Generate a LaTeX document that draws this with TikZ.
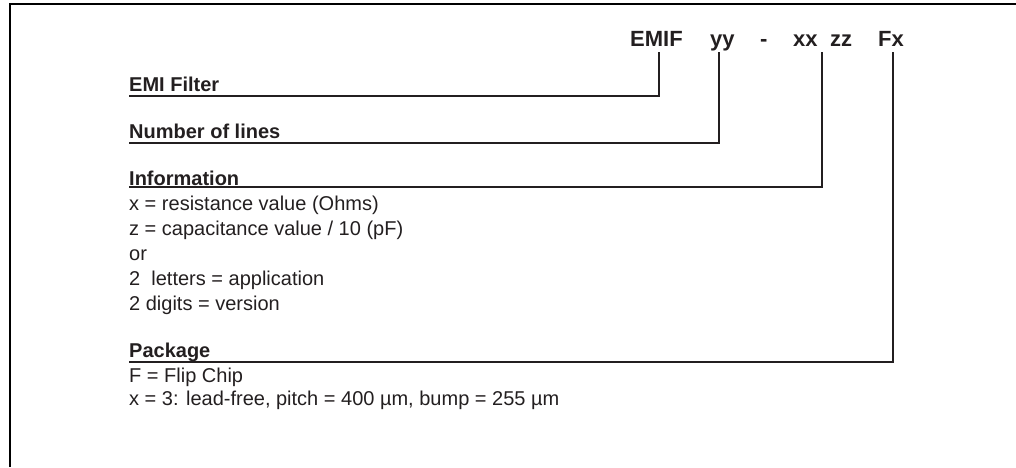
\documentclass[tikz,border=0pt]{standalone}
\usepackage{fontspec}
\setmainfont{Liberation Sans}
\definecolor{ink}{HTML}{231F20}
\begin{document}
\begin{tikzpicture}[x=1pt,y=-1pt,
  lab/.style={anchor=base west,inner sep=0pt,text=ink,font=\fontsize{20}{25}\selectfont\bfseries},
  txt/.style={anchor=base west,inner sep=0pt,text=ink,font=\fontsize{20}{25}\selectfont,align=left},
  head/.style={anchor=base west,inner sep=0pt,text=ink,font=\fontsize{22}{26}\selectfont\bfseries},
  conn/.style={draw=ink,line width=2.2pt},
  frame/.style={draw=black,line width=2pt}]
\useasboundingbox (0,0) rectangle (1016,467);
% frame
\coordinate (fbl) at (10,467);
\coordinate (ftl) at (10,4.3);
\coordinate (ftr) at (1016,4.3);
\draw[frame] (fbl) -- (ftl) -- (ftr);
% header
\node[head] (hemif) at (630,46.7) {EMIF};
\node[head] (hyy) at (710,46.7) {yy};
\node[head] (hdash) at (760,46.7) {-};
\node[head] (hxx) at (793,46.7) {xx};
\node[head] (hzz) at (830,46.7) {zz};
\node[head] (hfx) at (878,46.7) {Fx};
% labels
\node[lab] (emi) at (129,91.5) {EMI Filter};
\node[lab] (nol) at (129,138.3) {Number of lines};
\node[lab] (info) at (129,185) {Information};
\node[txt] (infotxt) at (129,210) {x = resistance value (Ohms)};
\node[txt] (l2) at (129,235) {z = capacitance value / 10 (pF)};
\node[txt] (l3) at (129,260) {or};
\node[txt] (l4) at (129,285) {2\ \ letters = application};
\node[txt] (l5) at (129,310) {2 digits = version};
\node[lab] (pkg) at (129,357.3) {Package};
\node[txt] (p1) at (129,382.3) {F = Flip Chip};
\node[txt] (p2) at (129,405.7) {x = 3: lead-free, pitch = 400 µm, bump = 255 µm};
% connectors
\coordinate (u1) at (129,95.7);  \coordinate (t1) at (658.7,51.7);
\coordinate (u2) at (129,142.7); \coordinate (t2) at (719,51.7);
\coordinate (u3) at (129,186.9); \coordinate (t3) at (821.7,51.7);
\coordinate (u4) at (129,361.7); \coordinate (t4) at (892.7,51.7);
\draw[conn] (u1) -| (t1);
\draw[conn] (u2) -| (t2);
\draw[conn] (u3) -| (t3);
\draw[conn] (u4) -| (t4);
\end{tikzpicture}
\end{document}
